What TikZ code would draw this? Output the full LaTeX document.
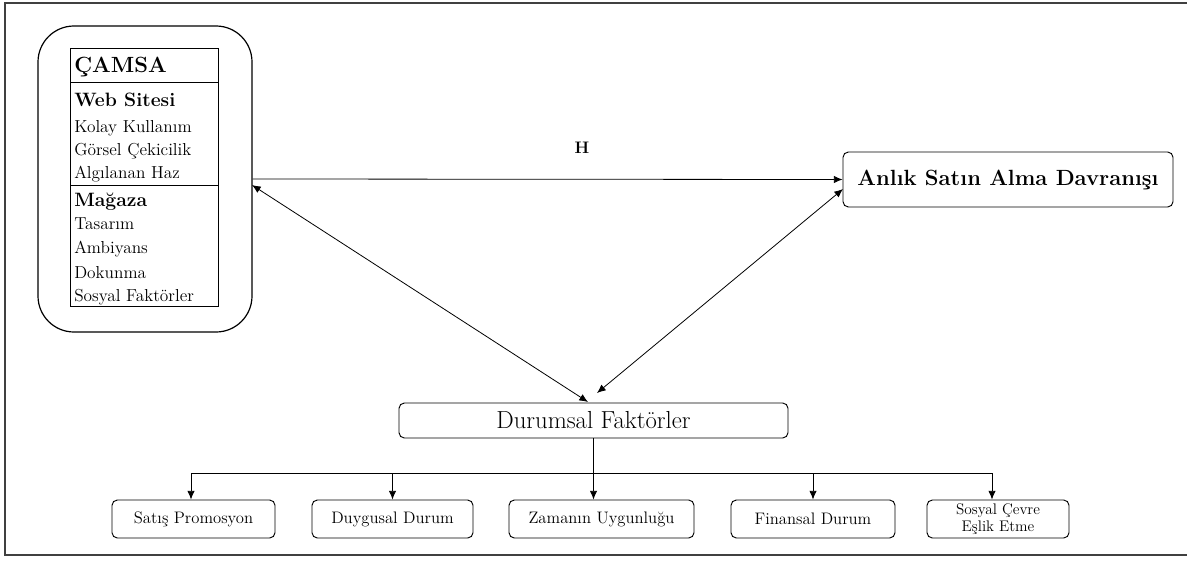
\documentclass[tikz,border=0pt]{standalone}
\usetikzlibrary{arrows.meta}
\begin{document}
\begin{tikzpicture}[x=0.75pt,y=-0.75pt,
  arr/.style={-{Latex[length=6.5pt,width=5.5pt]},line width=0.6pt},
  darr/.style={{Latex[length=6.5pt,width=5.5pt]}-{Latex[length=6.5pt,width=5.5pt]},line width=0.6pt},
  outerbox/.style={draw,line width=0.9pt,rounded corners=27pt,inner sep=0pt},
  rbox/.style={draw,line width=0.7pt,rounded corners=4pt,inner sep=0pt,align=center},
  cell/.style={draw,line width=0.6pt,inner sep=0pt},
  ln/.style={anchor=base west,inner sep=0pt,font=\fontsize{13}{15}\selectfont},
  hd/.style={anchor=base west,inner sep=0pt,font=\bfseries\fontsize{14.5}{16}\selectfont},
  small/.style={font=\fontsize{12.5}{14}\selectfont}
]
\useasboundingbox (0,0) rectangle (1187,560);
% frame
\coordinate (fTL) at (5,3);
\coordinate (fTR) at (1187,3);
\coordinate (fBL) at (5,555);
\coordinate (fBR) at (1187,555);
\draw[line width=0.8pt,black!75] (fTR) -- (fTL) -- (fBL) -- (fBR);

% left rounded box
\node[outerbox,minimum width=160.5pt,minimum height=229.5pt] (outer) at (145,179) {};
% table cells
\node[cell,minimum width=111pt,minimum height=25.5pt] (camsa) at (144,65) {};
\node[cell,minimum width=111pt,minimum height=77.25pt] (web) at (144,133.5) {};
\node[cell,minimum width=111pt,minimum height=90.75pt] (magaza) at (144,245.5) {};
% texts
\node[anchor=base west,inner sep=0pt,font=\bfseries\fontsize{16.5}{18}\selectfont] (t0) at (74,73) {ÇAMSA};
\node[hd] (t1) at (74,106) {Web Sitesi};
\node[ln] (t2) at (74,132) {Kolay Kullanım};
\node[ln] (t3) at (74,155) {Görsel Çekicilik};
\node[ln] (t4) at (74,178) {Algılanan Haz};
\node[hd] (t5) at (74,206) {Mağaza};
\node[ln] (t6) at (74,229) {Tasarım};
\node[ln] (t7) at (74,253) {Ambiyans};
\node[ln] (t8) at (74,278) {Dokunma};
\node[ln] (t9) at (74,301) {Sosyal Faktörler};

% right box
\node[rbox,minimum width=247.5pt,minimum height=41.25pt,font=\bfseries\fontsize{16.5}{18}\selectfont] (anlik) at (1008,179.5) {Anlık Satın Alma Davranışı};
% H label
\node[font=\bfseries\fontsize{12.5}{14}\selectfont] (h) at (582,148) {H};

% Durumsal
\node[rbox,minimum width=291.75pt,minimum height=26.25pt,font=\fontsize{18.5}{20}\selectfont] (dur) at (593.5,420.5) {Durumsal Faktörler};

% bottom boxes
\node[rbox,small,minimum width=122.25pt,minimum height=28.5pt] (satis) at (193.5,519) {Satış Promosyon};
\node[rbox,small,minimum width=120.75pt,minimum height=28.5pt] (duygu) at (392.5,519) {Duygusal Durum};
\node[rbox,small,minimum width=138.75pt,minimum height=28.5pt] (zaman) at (601.5,519) {Zamanın Uygunluğu};
\node[rbox,small,minimum width=123pt,minimum height=28.5pt] (finans) at (813,519) {Finansal Durum};
\node[rbox,minimum width=106.5pt,minimum height=28.5pt,font=\fontsize{11.5}{12.5}\selectfont] (sosyal) at (998,519) {Sosyal Çevre\\Eşlik Etme};

% connectors
\draw[arr] (outer.east) -- (anlik.west);
\coordinate (dL) at (588,402);
\coordinate (dR) at (597,393);
\coordinate (oE) at (252,185);
\coordinate (aW) at (843,189);
\draw[darr] (oE) -- (dL);
\draw[darr] (dR) -- (aW);

\coordinate (busL) at (191,473);
\coordinate (busR) at (992,473);
\draw[line width=0.6pt] (busL) -- (busR);
\draw[arr] (dur.south) -- (dur.south |- zaman.north);
\draw[arr] (busL) -- (busL |- satis.north);
\draw[arr] (duygu.north |- busL) -- (duygu.north);
\draw[arr] (finans.north |- busL) -- (finans.north);
\draw[arr] (busR) -- (busR |- sosyal.north);
\end{tikzpicture}
\end{document}
